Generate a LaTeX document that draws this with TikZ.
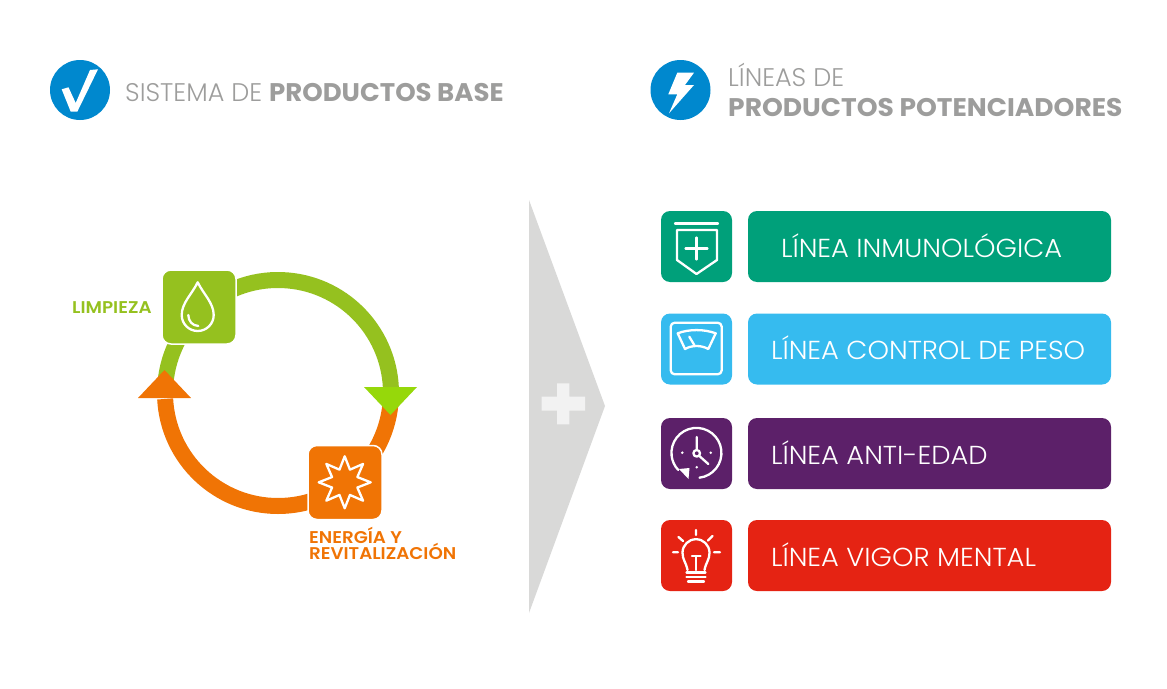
\documentclass[tikz,border=0pt]{standalone}
\usepackage{fontspec}
\usepackage{xcolor}
\usetikzlibrary{positioning,shapes.geometric}
\newfontfamily\lightfont{Poppins Light}
\newfontfamily\linefont{Poppins Light}[FakeStretch=1.05]
\newfontfamily\heavyfont{Poppins Bold}[FakeStretch=1.02]
\newfontfamily\widefont{Poppins Bold}[FakeStretch=1.04]
\newfontfamily\tagfont{Poppins SemiBold}[FakeStretch=1.075]
\definecolor{txt}{HTML}{9D9D9C}
\definecolor{acc}{HTML}{0088CE}
\definecolor{lime}{HTML}{95C11F}
\definecolor{limetip}{HTML}{96D80A}
\definecolor{tang}{HTML}{F07405}
\definecolor{wedge}{HTML}{D9D9D8}
\definecolor{inmu}{HTML}{00A07A}
\definecolor{peso}{HTML}{36BBEF}
\definecolor{edad}{HTML}{5C2069}
\definecolor{vigor}{HTML}{E52313}
\tikzset{
  head/.style={anchor=base west,inner sep=0pt,text=txt,font=\lightfont\fontsize{25.5}{28}\selectfont},
  tile/.style={minimum size=71pt,inner sep=0pt,rounded corners=9pt},
  ringtile/.style={tile,minimum size=74pt,draw=white,line width=1.5pt},
  bar/.style={minimum width=363pt,minimum height=71pt,inner sep=0pt,rounded corners=9pt},
  lbl/.style={anchor=base west,inner sep=0pt,text=white,font=\linefont\fontsize{26}{28}\selectfont},
  tag/.style={anchor=base west,inner sep=0pt,align=left,font=\tagfont\fontsize{17}{17}\selectfont},
  ico/.style={draw=white,line width=2.3pt,line cap=round,line join=round},
  ringarc/.style={line width=16pt},
}
\begin{document}
\begin{tikzpicture}[x=1pt,y=-1pt]
\useasboundingbox (0,0) rectangle (1167,688);
% headings
\node[circle,fill=acc,minimum size=60pt,inner sep=0pt] (chk) at (80,90) {};
\fill[white] (61.7,89.3) -- (68.5,87.3) -- (75.7,103) -- (90,70) -- (98,69.3) -- (77.3,111.7) -- (70.7,111.7) -- cycle;
\node[head] (hsys) at (125,101) {SISTEMA DE {\heavyfont PRODUCTOS BASE}};
\node[circle,fill=acc,minimum size=60pt,inner sep=0pt] (bolt) at (680.5,90) {};
\fill[white] (677.3,72.7) -- (694,72.7) -- (685,85) -- (694,85) -- (669,113.3) -- (677.3,94.3) -- (668.3,94.3) -- cycle;
\node[head] (hlin) at (728,86) {LÍNEAS DE};
\node[head] (hpot) at (728,116.5) {\widefont PRODUCTOS POTENCIADORES};
% ring
\coordinate (ring) at (278,393);
\draw[tang,ringarc] ([shift={(0:113pt)}]ring) arc[start angle=0,end angle=-177,radius=113pt];
\draw[lime,ringarc] ([shift={(175:113pt)}]ring) arc[start angle=175,end angle=0,radius=113pt];
\fill[limetip] (364,387) -- (417,387) -- (390.5,415) -- cycle;
\fill[tang] (138,398) -- (191,398) -- (164.5,370) -- cycle;
\node[ringtile,fill=lime] (limp) at (199,307) {};
\node[ringtile,fill=tang] (ener) at (345,482.5) {};
\node[tag,text=lime] (tlimp) at (72,313) {LIMPIEZA};
\node[tag,text=tang] (tener) at (309,543) {ENERGÍA Y};
\node[tag,text=tang] (trevi) at (309,559.5) {REVITALIZACIÓN};
% drop and star
\draw[ico] (197.7,282.3) .. controls (192,294) and (181.7,303) .. (181.7,315) arc[start angle=180,end angle=360,radius=16pt] .. controls (213.7,303) and (203.4,294) .. (197.7,282.3) -- cycle;
\draw[ico] (188.3,315) .. controls (188.5,321) and (192,325.5) .. (198.3,326);
\node[star,star points=8,star point ratio=1.9,minimum size=52pt,inner sep=0pt,ico] (sun) at (344.7,482.3) {};
% wedge
\fill[wedge] (529,200) -- (605,406) -- (529,613) -- cycle;
\fill[white!95!black] (557,383.3) rectangle (569.3,424.3) (541.7,396.7) rectangle (585,410.7);
% product lines
\foreach \n/\y/\c/\x/\t in {a/246.5/inmu/33/LÍNEA INMUNOLÓGICA,b/349/peso/23/LÍNEA CONTROL DE PESO,c/453.5/edad/23/LÍNEA ANTI-EDAD,d/555.5/vigor/23/LÍNEA VIGOR MENTAL}{
  \node[tile,fill=\c] (ico\n) at (696.5,\y) {};
  \node[bar,fill=\c] (bar\n) at (929.5,\y) {};
  \node[lbl,xshift=\x pt,yshift=-10.5pt] (lbl\n) at (bar\n.west) {\t};
}
% shield
\draw[ico] (675,223.5) -- (718,223.5);
\draw[ico] (677,230) -- (717,230) -- (717,260) -- (696.5,274) -- (677,260) -- cycle;
\draw[ico] (685.5,248.5) -- (707.5,248.5) (696.5,237.5) -- (696.5,259.5);
% scale
\draw[ico,rounded corners=4pt] (670.7,322.7) rectangle (721.7,374.3);
\draw[ico] (677.7,333.3) .. controls (689,329) and (704,329) .. (715.7,333.3) -- (708.3,349) .. controls (701,345) and (692,345) .. (685,349) -- cycle;
\draw[ico] (689.3,336.7) -- (694.3,345);
% clock
\draw[ico] (699.5,477.7) arc[start angle=-83,end angle=223,radius=25pt];
\fill[white] (679,469) -- (689.5,468) -- (688.5,479) -- cycle;
\draw[ico] (696.7,453.3) circle[radius=3.3pt];
\draw[ico] (696.7,450) -- (696.7,437) (699,455.7) -- (708.3,464);
\fill[white] (682.3,452.7) circle[radius=1.4pt] (710.7,452.7) circle[radius=1.4pt] (696.7,467.3) circle[radius=1.4pt];
% bulb
\draw[ico] (687.5,570) .. controls (686,562) and (682.5,560) .. (682.5,552.7) arc[start angle=180,end angle=0,radius=13.5pt] .. controls (709.5,560) and (706,562) .. (704.5,570);
\draw[ico] (686.5,572.5) -- (705.5,572.5) (686.5,577) -- (705.5,577) (688,581.5) -- (704,581.5);
\draw[ico] (692,556) -- (700.5,556) (696,556) -- (696,570);
\draw[ico] (696,530) -- (696,535) (678.5,537) -- (683,541) (712.5,536) -- (708,540.5) (673,552.3) -- (678,552.3) (714,552.3) -- (720,552.3);
\end{tikzpicture}
\end{document}
